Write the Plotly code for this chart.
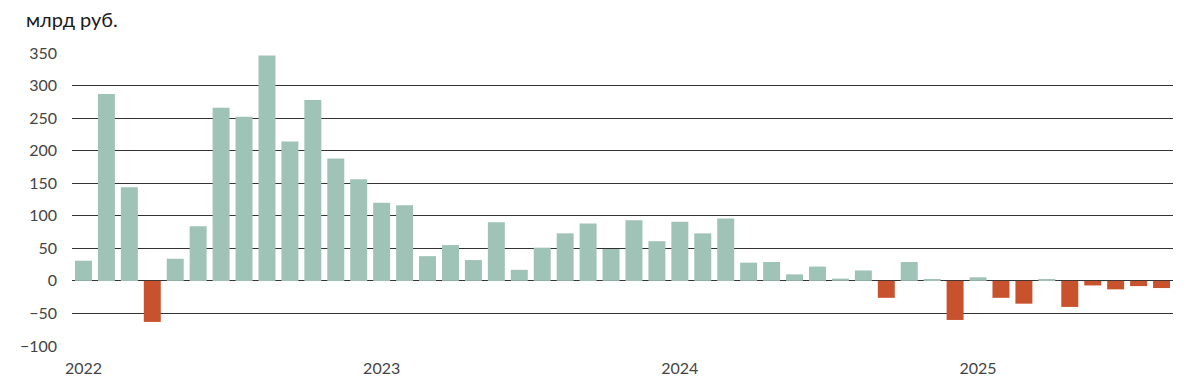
import plotly.graph_objects as go

months = list(range(48))  # Jan 2022 .. Dec 2025 (monthly bars)
values = [31, 287, 144, -63, 34, 84, 266, 252, 346, 214, 278, 188,
          156, 120, 116, 38, 55, 32, 90, 17, 51, 73, 88, 49,
          93, 61, 91, 73, 96, 28, 29, 10, 22, 3.5, 16, -26,
          29, 2, -60, 5.5, -26, -35, 1.5, -40, -7, -13, -8, -11]
tick_positions = [0, 13, 26, 39]
tick_labels = ["2022", "2023", "2024", "2025"]
y_ticks = [-100, -50, 0, 50, 100, 150, 200, 250, 300, 350]

GREEN = "#9fc3b6"
RED = "#c8522d"
colors = [GREEN if v >= 0 else RED for v in values]

fig = go.Figure(go.Bar(x=months, y=values, marker=dict(color=colors, line=dict(width=0)),
                       width=0.74))

fig.update_layout(
    width=1200, height=390,
    margin=dict(l=72, r=27, t=53, b=44),
    paper_bgcolor="white", plot_bgcolor="white",
    showlegend=False,
    font=dict(family="Lato, 'Open Sans', sans-serif", color="#444"),
    xaxis=dict(range=[-0.5, 47.5], tickmode="array", tickvals=tick_positions,
               ticktext=tick_labels, showgrid=False, zeroline=False,
               showline=False, ticks="", ticklabelstandoff=11,
               tickfont=dict(size=16, color="#444")),
    yaxis=dict(range=[-100, 350], tickmode="array", tickvals=y_ticks,
               showgrid=True, gridcolor="#333", gridwidth=1, zeroline=False,
               showline=False, ticks="", ticklabelstandoff=14,
               tickfont=dict(size=16, color="#444"), layer="below traces"),
    annotations=[dict(text="млрд руб.", x=0, xref="paper", xanchor="left",
                      xshift=-48, y=1, yref="paper", yanchor="bottom", yshift=20,
                      showarrow=False, font=dict(size=20, color="#1a1a1a",
                      family="Lato, 'Open Sans', sans-serif"))],
)

fig.write_html("out.html")
